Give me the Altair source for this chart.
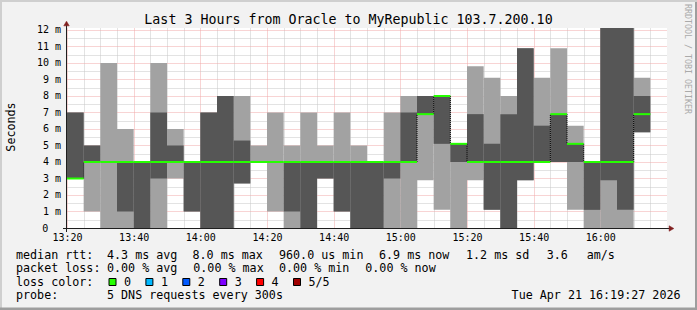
import json
import altair as alt
import pandas as pd

# ---------------- data (milliseconds), one column per 5-minute step from 13:20 ----------------
smoke_min = [3.0, 1.0, 0.0, 0.0, 0.0, 0.0, 3.0, 1.0, 0.0, 0.0, 2.7, 4.0, 1.0, 0.0, 0.0, 3.0, 1.0, 0.0,
             0.0, 0.0, 0.0, 2.9, 1.1, 0.0, 2.9, 1.1, 0.0, 2.9, 4.0, 4.0, 1.1, 0.0, 0.0, 0.0, 5.8]
smoke_q_lo = [3.0, 4.0, 4.0, 1.0, 0.0, 3.0, 4.0, 1.0, 0.0, 0.0, 2.7, 4.0, 4.0, 1.0, 0.0, 3.0, 1.0, 0.0,
              0.0, 3.0, 4.0, 6.9, 5.1, 4.0, 4.0, 1.1, 0.0, 2.9, 4.0, 4.0, 4.0, 1.1, 2.9, 1.1, 5.8]
smoke_q_hi = [7.0, 5.0, 4.0, 4.0, 4.0, 7.0, 5.0, 4.0, 7.0, 8.0, 5.3, 4.0, 4.0, 4.0, 4.0, 4.0, 4.0, 4.0,
              4.0, 4.0, 7.0, 8.0, 8.0, 5.1, 6.9, 5.1, 6.9, 10.9, 6.2, 6.9, 5.1, 4.0, 12.12, 12.12, 8.0]
smoke_max = [7.0, 5.0, 10.0, 6.0, 4.0, 10.0, 6.0, 4.0, 7.0, 8.0, 8.0, 5.0, 7.0, 5.0, 7.0, 5.0, 7.0, 5.0,
             4.0, 7.0, 8.0, 8.0, 8.0, 5.1, 9.8, 9.1, 8.0, 10.9, 9.1, 10.9, 6.2, 4.0, 12.12, 12.12, 9.1]
median_rtt = [3.0, 4.0, 4.0, 4.0, 4.0, 4.0, 4.0, 4.0, 4.0, 4.0, 4.0, 4.0, 4.0, 4.0, 4.0, 4.0, 4.0, 4.0,
              4.0, 4.0, 4.0, 6.9, 8.0, 5.1, 4.0, 4.0, 4.0, 4.0, 4.0, 6.9, 5.1, 4.0, 4.0, 4.0, 6.9]

xtick_labels = ["13:20", "13:40", "14:00", "14:20", "14:40", "15:00", "15:20", "15:40", "16:00"]
zero_label = "0"
title_text = "Last 3 Hours from Oracle to MyRepublic 103.7.200.10"
y_title = "Seconds"
watermark = "RRDTOOL / TOBI OETIKER"

rtt_label = "median rtt:"
rtt_stats = ["4.3 ms avg", "8.0 ms max", "960.0 us min", "6.9 ms now", "1.2 ms sd", "3.6", "am/s"]
loss_label = "packet loss:"
loss_stats = ["0.00 % avg", "0.00 % max", "0.00 % min", "0.00 % now"]
color_label = "loss color:"
loss_names = ["0", "1", "2", "3", "4", "5/5"]
loss_colors = ["#26ff00", "#00b8ff", "#0059ff", "#7e00ff", "#ff0000", "#a00000"]
probe_label = "probe:"
probe_text = "5 DNS requests every 300s"
stamp_text = "Tue Apr 21 16:19:27 2026"

STEP = 5          # minutes per column
SPAN = 180        # minutes shown
YMAX = 12.12      # top of value axis (ms)

# ---------------- layout / style ----------------
LEFT, TOP, W, H = 67, 28, 600, 200
TOTAL_W, TOTAL_H = 697, 310
FONT = "DejaVu Sans Mono"
LIGHT = "#a2a2a2"
DARK = "#565656"
MINOR = "#c6c6c6"
MAJOR = "#f0a8a8"
ARROW = "#801f1f"
AXIS = "#1f1f1f"

n = len(median_rtt)
df = pd.DataFrame({
    "t0": [STEP * i for i in range(n)],
    "t1": [STEP * (i + 1) for i in range(n)],
    "lo": smoke_min, "qlo": smoke_q_lo, "qhi": smoke_q_hi, "hi": smoke_max,
    "med": median_rtt,
})
conn = pd.DataFrame([
    {"t0": STEP * i, "qlo": median_rtt[i - 1], "qhi": median_rtt[i]}
    for i in range(1, n) if median_rtt[i] != median_rtt[i - 1]
])

xs = alt.Scale(domain=[0, SPAN], nice=False, zero=False)
ys = alt.Scale(domain=[0, YMAX], nice=False, zero=False)

x_label_expr = ("datum.value % 20 === 0 ? " + json.dumps(xtick_labels) +
                "[round(datum.value / 20)] : ''")
x_axis = alt.Axis(
    values=list(range(0, SPAN, STEP)), grid=True,
    gridColor={"condition": {"test": "datum.value % 20 === 0", "value": MAJOR}, "value": MINOR},
    gridDash=[1, 1], gridWidth=1, ticks=False, domain=False,
    labelExpr=x_label_expr, labelFlush=False, labelOverlap=False,
    labelFont=FONT, labelFontSize=10, labelColor="#000000", labelPadding=4, title=None,
)
y_label_expr = "(datum.value % 1 !== 0 || datum.value === 0) ? '' : datum.value + ' m'"
y_axis = alt.Axis(
    values=[k * 0.5 for k in range(25)], grid=True,
    gridColor={"condition": {"test": "datum.value % 1 === 0", "value": MAJOR}, "value": MINOR},
    gridDash=[1, 1], gridWidth=1, ticks=False, domain=False,
    labelExpr=y_label_expr, labelFlush=False, labelOverlap=False, labelAlign="right",
    labelBaseline="middle", labelFont=FONT, labelFontSize=10, labelColor="#000000",
    labelPadding=6.5, title=None,
)

X = alt.X("t0:Q", scale=xs, axis=x_axis)

light = alt.Chart(df).mark_rect(color=LIGHT).encode(
    x=X, x2="t1:Q", y=alt.Y("lo:Q", scale=ys, axis=y_axis), y2="hi:Q",
)
dark = alt.Chart(df).mark_rect(color=DARK).encode(
    x=X, x2="t1:Q", y=alt.Y("qlo:Q", scale=ys, axis=y_axis), y2="qhi:Q",
)
connectors = alt.Chart(conn).mark_rule(color="#000000", strokeWidth=1, strokeDash=[1, 1]).encode(
    x=X, y=alt.Y("qlo:Q", scale=ys, axis=y_axis), y2="qhi:Q",
)
median = alt.Chart(df).mark_rule(color=loss_colors[0], strokeWidth=2).encode(
    x=X, x2="t1:Q", y=alt.Y("med:Q", scale=ys, axis=y_axis),
)

one = pd.DataFrame({"k": [0]})


def box(x1, x2, y1, y2, fill, stroke=None):
    kw = {"fill": fill}
    if stroke:
        kw.update(stroke=stroke, strokeWidth=1)
    return alt.Chart(one).mark_rect(**kw).encode(
        x=alt.value(x1 - LEFT), x2=alt.value(x2 - LEFT),
        y=alt.value(y1 - TOP), y2=alt.value(y2 - TOP))


def arrow(cx, cy, shape):
    return alt.Chart(one).mark_point(shape=shape, size=30, filled=True, fill=ARROW,
                                     stroke=ARROW, strokeWidth=0.5, opacity=1).encode(
        x=alt.value(cx - LEFT), y=alt.value(cy - TOP))


def text(s, x, y, size, align="left", angle=0, color="#000000", baseline="alphabetic"):
    return alt.Chart(pd.DataFrame({"s": [s]})).mark_text(
        font=FONT, fontSize=size, align=align, baseline=baseline, angle=angle, color=color
    ).encode(text="s:N", x=alt.value(x - LEFT), y=alt.value(y - TOP))


layers = [light, dark, connectors, median]

# axis lines with arrows, and the bare zero label placed in the digit column
layers += [
    box(63, 671, 228, 229, AXIS),
    box(66, 67, 24, 232, AXIS),
    arrow(671.5, 228.5, "triangle-right"),
    arrow(66.5, 23.5, "triangle-up"),
    text(zero_label, 48.3, 228.5, 10, align="right", baseline="middle"),
]

# frame shading
layers += [
    box(0, TOTAL_W, 0, 2, "#cfcfcf"),
    box(0, 2, 0, TOTAL_H, "#cfcfcf"),
    box(0, TOTAL_W, TOTAL_H - 2.5, TOTAL_H, "#9e9e9e"),
    box(TOTAL_W - 2, TOTAL_W, 2, TOTAL_H, "#9e9e9e"),
]

# titles
LEG = 11.7
layers += [
    text(title_text, 348.5, 24, 13.3, align="center"),
    text(y_title, 15, 127, LEG, align="center", angle=270),
    text(watermark, 684.5, 59, 8.3, align="center", angle=90, color="#aaaaaa"),
]

# legend
rows_y = [258.5, 272.1, 285.7, 299.4]
rtt_x = [107, 192.5, 279, 379, 466, 546.7, 586.7]
loss_x = [107, 193.3, 279, 365.3]
layers.append(text(rtt_label, 16, rows_y[0], LEG))
for s, x in zip(rtt_stats, rtt_x):
    layers.append(text(s, x, rows_y[0], LEG))
layers.append(text(loss_label, 16, rows_y[1], LEG))
for s, x in zip(loss_stats, loss_x):
    layers.append(text(s, x, rows_y[1], LEG))
layers.append(text(color_label, 16, rows_y[2], LEG))
for k, (name, col) in enumerate(zip(loss_names, loss_colors)):
    bx = 109 + 36.9 * k
    layers.append(box(bx, bx + 7, 278.5, 285.5, col, stroke="#000000"))
    layers.append(text(name, bx + 15, rows_y[2], LEG))
layers.append(text(probe_label, 16, rows_y[3], LEG))
layers.append(text(probe_text, 107, rows_y[3], LEG))
layers.append(text(stamp_text, 680.5, rows_y[3], LEG, align="right"))

chart = alt.layer(*layers).properties(
    width=W, height=H,
    padding={"left": LEFT, "top": TOP, "right": TOTAL_W - LEFT - W, "bottom": TOTAL_H - TOP - H},
    autosize=alt.AutoSizeParams(type="none"),
    background="#f2f2f2",
).configure_view(fill="#ffffff", stroke=None)

chart.save("out.html", embed_options={"renderer": "svg", "actions": False})
